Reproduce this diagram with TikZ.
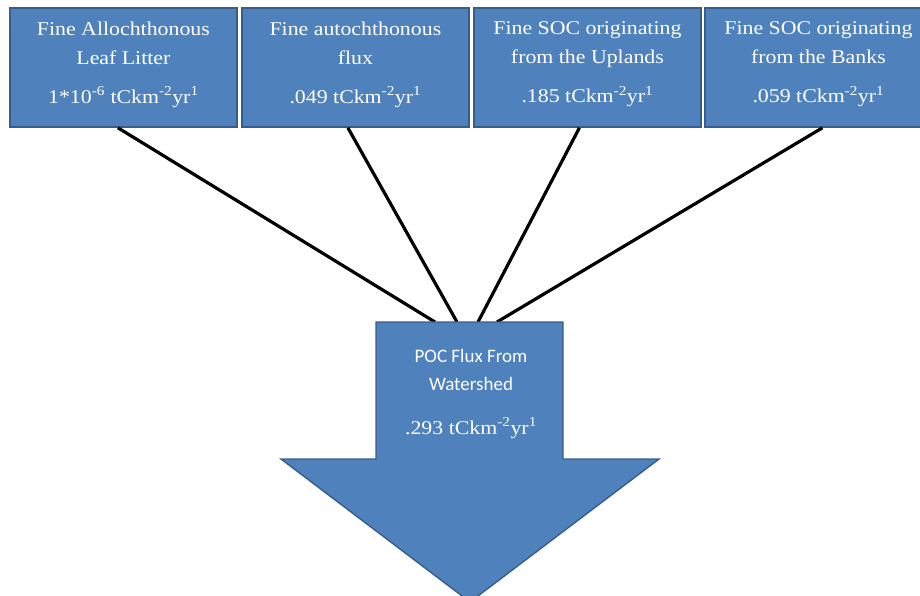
\documentclass[tikz,border=0pt]{standalone}
\usepackage{fontspec}
\setmainfont{Liberation Serif}[FakeStretch=1.12]
\newfontfamily\calfont{Carlito}
\definecolor{pocblue}{HTML}{4F81BD}
\definecolor{pocedge}{HTML}{385D8A}
\usepackage{tikz}
\usetikzlibrary{calc}
\newcommand{\tckm}{tCkm\textsuperscript{-2}yr\textsuperscript{1}}
\newcommand{\lowstrut}{\rule[-10pt]{0pt}{0pt}}

\begin{document}
\begin{tikzpicture}[x=1pt,y=-1pt,
  srcbox/.style={draw=pocedge,line width=1.8pt,fill=pocblue,text=white,anchor=north west,
    minimum width=227pt,minimum height=119pt,inner sep=0pt,align=center,
    font=\fontsize{19.5}{29}\selectfont},
  feed/.style={line width=3.2pt,black}]
\useasboundingbox (0,0) rectangle (920,596);
\clip (0,0) rectangle (920,596);
\node[srcbox] (leaf) at (9,7) {Fine Allochthonous\\Leaf Litter\\[10pt]1*10\textsuperscript{-6} \tckm\lowstrut};
\node[srcbox] (auto) at (241,7) {Fine autochthonous\\flux\\[10pt].049 \tckm\lowstrut};
\node[srcbox] (upland) at (473,7) {Fine SOC originating\\from the Uplands\\[10pt].185 \tckm\lowstrut};
\node[srcbox] (bank) at (704,7) {Fine SOC originating\\from the Banks\\[10pt].059 \tckm\lowstrut};
\coordinate (pocin) at (469.5,322);
\draw[feed] ($(leaf.south)+(-5.5,0)$) -- ($(pocin)+(-34.5,0)$);
\draw[feed] ($(auto.south)+(-7.5,0)$) -- ($(pocin)+(-12.5,0)$);
\draw[feed] ($(upland.south)+(-8,0)$) -- ($(pocin)+(8.5,0)$);
\draw[feed] ($(bank.south)+(4,0)$) -- ($(pocin)+(27.5,0)$);
% big down arrow
\draw[fill=pocblue,draw=pocedge,line width=1.4pt,line join=miter]
  (376,322) -- (563,322) -- (563,459) -- (659,459) -- (470,602) -- (281,459) -- (376,459) -- cycle;
\node[text=white,align=center,anchor=north,inner sep=0pt,font=\calfont\fontsize{19}{28}\selectfont] (poc)
  at (471,349) {POC Flux From\\Watershed\\[16pt]{\rmfamily\fontsize{19.5}{28}\selectfont .293 \tckm}};
\end{tikzpicture}
\end{document}
